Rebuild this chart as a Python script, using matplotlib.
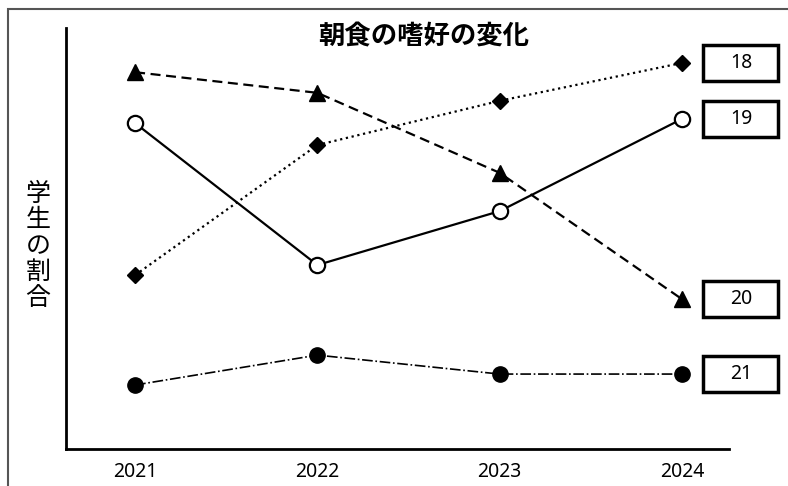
import matplotlib
matplotlib.use("Agg")
import matplotlib.pyplot as plt
from matplotlib.patches import Rectangle

plt.rcParams['font.family'] = ['Noto Sans CJK JP', 'DejaVu Sans']

years = [2021, 2022, 2023, 2024]
title = "朝食の嗜好の変化"
ylabel = "学生の割合"
series_labels = ["18", "19", "20", "21"]
s18 = [41.3, 72.2, 82.7, 91.7]   # diamonds, dotted
s19 = [77.4, 43.7, 56.5, 78.4]   # open circles, solid
s20 = [89.5, 84.6, 65.6, 35.6]   # triangles, dashed
s21 = [15.2, 22.3, 17.8, 17.8]   # filled circles, dash-dot

W, H = 788, 486
fig = plt.figure(figsize=(W / 100, H / 100), dpi=100)
ax = fig.add_axes([66 / W, 1 - 449 / H, (729 - 66) / W, (449 - 28) / H])

xmin, xmax = 2021 - 69 / 182, 2024 + 47 / 182
ymin, ymax = 0, 100
ax.set_xlim(xmin, xmax)
ax.set_ylim(ymin, ymax)

lw = 1.6
ax.plot(years, s18, linestyle=':', color='black', lw=lw, marker='D', markersize=8,
        markerfacecolor='black', markeredgecolor='black', clip_on=False)
ax.plot(years, s19, linestyle='-', color='black', lw=lw, marker='o', markersize=11,
        markerfacecolor='white', markeredgecolor='black', markeredgewidth=1.6, clip_on=False)
ax.plot(years, s20, linestyle=(0, (4.5, 2.5)), color='black', lw=lw, marker='^', markersize=12,
        markerfacecolor='black', markeredgecolor='black', clip_on=False)
ax.plot(years, s21, linestyle='-.', color='black', lw=1.2, marker='o', markersize=11,
        markerfacecolor='black', markeredgecolor='black', clip_on=False)

# label boxes at the end of each series
px_x = (xmax - xmin) / (729 - 66)
px_y = (ymax - ymin) / (449 - 28)
bw, bh = 75 * px_x, 36 * px_y
for lab, s in zip(series_labels, [s18, s19, s20, s21]):
    cx = years[-1] + 59 * px_x
    cy = s[-1]
    ax.add_patch(Rectangle((cx - bw / 2, cy - bh / 2), bw, bh, facecolor='white',
                           edgecolor='black', lw=2.5, clip_on=False, zorder=5))
    ax.text(cx, cy, lab, ha='center', va='center', fontsize=14, zorder=6, clip_on=False,
            family=['Noto Sans', 'DejaVu Sans'])

for side in ['top', 'right']:
    ax.spines[side].set_visible(False)
for side in ['left', 'bottom']:
    ax.spines[side].set_linewidth(2)
    ax.spines[side].set_color('black')
ax.set_yticks([])
ax.set_xticks(years)
ax.set_xticklabels([str(y) for y in years], fontsize=14, family=['Noto Sans', 'DejaVu Sans'])
ax.tick_params(axis='x', length=0, pad=9)

fig.text(424 / W, 1 - 37 / H, title, ha='center', va='center', fontsize=19, fontweight='bold')
fig.text(38 / W, 1 - 246 / H, "\n".join(ylabel), ha='center', va='center', fontsize=18,
         linespacing=1.0)

# outer frame
fig.add_artist(Rectangle((8 / W, -0.1), 1.1, 1 - 9 / H + 0.1, transform=fig.transFigure,
                         facecolor='none', edgecolor='#555555', lw=1.5))

fig.savefig("out.png", dpi=100)
